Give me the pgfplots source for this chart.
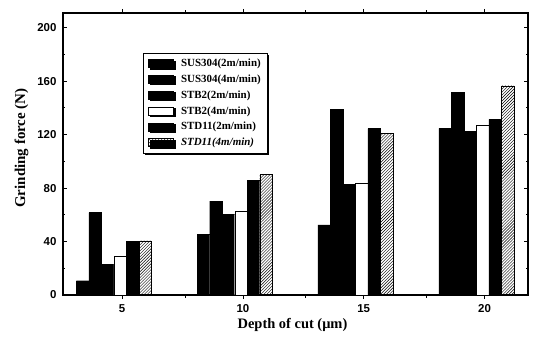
\documentclass[border=0pt]{standalone}
\usepackage{pgfplots}
\pgfplotsset{compat=1.18}
\usepackage{fontspec}
\setmainfont{Liberation Serif}
\setsansfont{Liberation Sans}
\usetikzlibrary{patterns,shadows}
\begin{document}
\begin{tikzpicture}
\useasboundingbox (-63bp,-45bp) rectangle (472bp,295bp);
\begin{axis}[
  at={(0,0)}, anchor=south west,
  scale only axis,
  width=465bp, height=282bp,
  xmin=2.55, xmax=21.8,
  ymin=0, ymax=211,
  xtick={5,10,15,20},
  minor xtick={7.6,12.6,17.6},
  ytick={0,40,80,120,160,200},
  minor ytick={20,60,100,140,180},
  tick align=inside,
  major tick length=4bp, minor tick length=2.5bp,
  axis line style={line width=1.3bp},
  every tick/.style={black, line width=0.8bp},
  /pgf/number format/assume math mode=true,
  tick label style={font=\sffamily\bfseries\fontsize{11.5}{13}\selectfont},
  yticklabel style={xshift=-3bp},
  xticklabel style={yshift=-2bp},
  xlabel={\bfseries Depth of cut (μm)},
  ylabel={\bfseries Grinding force (N)},
  xlabel style={font=\fontsize{14.5}{16}\selectfont, yshift=1bp, xshift=-3bp},
  ylabel style={font=\fontsize{15}{17}\selectfont, yshift=2bp, xshift=6bp},
  ybar, bar width=12.5bp,
  legend cell align=left,
  legend style={at={(0.172,0.859)}, anchor=north west, draw=black, line width=0.9bp,
    font=\bfseries\fontsize{11}{12}\selectfont, row sep=2.7bp,
    inner xsep=5bp, inner ysep=4bp,
    /tikz/every odd column/.append style={column sep=5bp},
    drop shadow={fill=black, opacity=1, shadow xshift=1.3bp, shadow yshift=-1.3bp}},
  legend image code/.code={\draw[#1, line width=0.6bp] (0bp,-4bp) rectangle (25bp,4bp);},
]
\addplot[fill=black, draw=black, bar shift=-39.5bp] coordinates {(5,10.7) (10,45.4) (15,52.4) (20,124.7)};
\addplot[fill=black, draw=black, bar shift=-27bp] coordinates {(5,61.6) (10,70.3) (15,139) (20,151.6)};
\addplot[fill=black, draw=black, bar shift=-14.5bp] coordinates {(5,23) (10,60.6) (15,83) (20,122.7)};
\addplot[fill=white, draw=black, bar shift=-2bp] coordinates {(5,29) (10,62.8) (15,84) (20,127)};
\addplot[fill=black, draw=black, bar shift=10.5bp] coordinates {(5,40.4) (10,86) (15,124.5) (20,131.4)};
\addplot[pattern=north east lines, draw=black, bar shift=23bp] coordinates {(5,40.6) (10,90.5) (15,121) (20,156.6)};
\legend{SUS304(2m/min), SUS304(4m/min), STB2(2m/min), STB2(4m/min), STD11(2m/min), \textit{STD11(4m/min)}}
\end{axis}
\end{tikzpicture}
\end{document}
